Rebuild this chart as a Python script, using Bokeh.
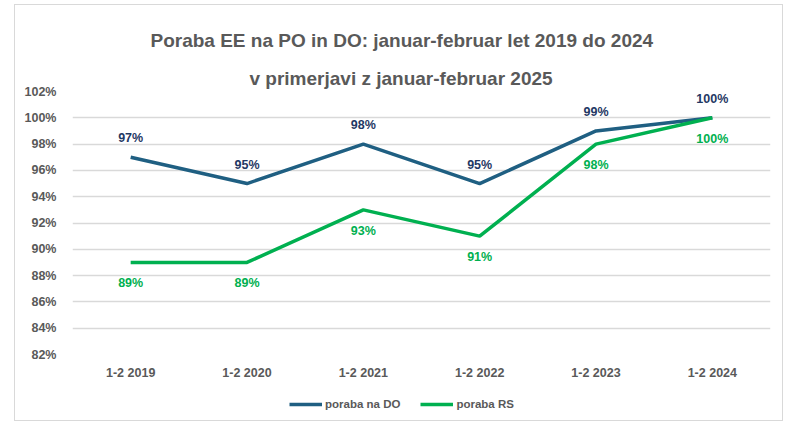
from bokeh.plotting import figure
from bokeh.layouts import column
from bokeh.models import ColumnDataSource, Legend, LegendItem, Title, Range1d, FactorRange, NumeralTickFormatter, FixedTicker
from bokeh.core.properties import value
from bokeh.embed import file_html
from bokeh.resources import INLINE

categories = ["1-2 2019", "1-2 2020", "1-2 2021", "1-2 2022", "1-2 2023", "1-2 2024"]
poraba_do = [0.97, 0.95, 0.98, 0.95, 0.99, 1.00]
poraba_rs = [0.89, 0.89, 0.93, 0.91, 0.98, 1.00]
y_ticks = [0.82, 0.84, 0.86, 0.88, 0.90, 0.92, 0.94, 0.96, 0.98, 1.00, 1.02]
series_names = ["poraba na DO", "poraba RS"]

DO_LINE = "#1F5F82"
DO_LABEL = "#1F3864"
RS_COLOR = "#00B050"
GRAY = "#595959"
FONT = "Liberation Sans"

src = ColumnDataSource(dict(
    x=categories, do=poraba_do, rs=poraba_rs,
    do_lbl=[f"{round(v*100)}%" for v in poraba_do],
    rs_lbl=[f"{round(v*100)}%" for v in poraba_rs],
))

p = figure(frame_width=698, frame_height=263, x_range=FactorRange(*categories), y_range=Range1d(0.82, 1.02),
           output_backend="svg", toolbar_location=None,
           min_border_left=57, min_border_right=12, min_border_top=86, min_border_bottom=30)

t2 = Title(text="v primerjavi z januar-februar 2025", align="left", text_font=FONT,
           text_font_size="19px", text_font_style="bold", text_color=GRAY, standoff=5, offset=177)
t1 = Title(text="Poraba EE na PO in DO: januar-februar let 2019 do 2024", align="left", text_font=FONT,
           text_font_size="19px", text_font_style="bold", text_color=GRAY, standoff=25, offset=78)
p.add_layout(t2, "above")
p.add_layout(t1, "above")

p.outline_line_color = None
p.xgrid.grid_line_color = None
p.ygrid.grid_line_color = "#D9D9D9"
p.ygrid.grid_line_width = 1.3
p.ygrid.ticker = FixedTicker(ticks=y_ticks)

p.yaxis.ticker = FixedTicker(ticks=y_ticks)
p.yaxis.formatter = NumeralTickFormatter(format="0%")
for ax in (p.xaxis[0], p.yaxis[0]):
    ax.axis_line_color = None
    ax.major_tick_line_color = None
    ax.minor_tick_line_color = None
    ax.major_label_text_font = FONT
    ax.major_label_text_font_size = "12.5px"
    ax.major_label_text_font_style = "bold"
    ax.major_label_text_color = GRAY
p.yaxis.major_label_standoff = 10
p.xaxis.major_label_standoff = 5

p.line("x", "do", source=src, line_color=DO_LINE, line_width=3.5)
p.line("x", "rs", source=src, line_color=RS_COLOR, line_width=3.5)

p.text("x", "do", text="do_lbl", source=src, text_align="center", text_baseline="bottom",
       y_offset=-12, text_font=value(FONT), text_font_size="12.5px",
       text_font_style="bold", text_color=DO_LABEL)
p.text("x", "rs", text="rs_lbl", source=src, text_align="center", text_baseline="top",
       y_offset=14, text_font=value(FONT), text_font_size="12.5px",
       text_font_style="bold", text_color=RS_COLOR)

# legend strip below the chart (series drawn outside its visible range; only the legend shows)
p2 = figure(width=767, height=36, output_backend="svg", toolbar_location=None,
            x_range=Range1d(0, 1), y_range=Range1d(0, 0.5), x_axis_type=None, y_axis_type=None,
            min_border=0)
p2.outline_line_color = None
p2.xgrid.grid_line_color = None
p2.ygrid.grid_line_color = None
idx = list(range(len(categories)))
l_do = p2.line(x=idx, y=poraba_do, line_color=DO_LINE, line_width=3.5)
l_rs = p2.line(x=idx, y=poraba_rs, line_color=RS_COLOR, line_width=3.5)
legend = Legend(items=[LegendItem(label=series_names[0], renderers=[l_do]),
                       LegendItem(label=series_names[1], renderers=[l_rs])],
                orientation="horizontal", location=(217, 10),
                label_text_font=FONT, label_text_font_size="11.5px", label_text_font_style="bold",
                label_text_color=GRAY, glyph_width=33, glyph_height=12, spacing=20,
                label_standoff=3, border_line_color=None, background_fill_alpha=0,
                margin=0, padding=0)
p2.add_layout(legend, "center")

layout = column(p, p2, spacing=0)
layout.styles = {"border": "1px solid #D9D9D9", "margin-left": "14px", "margin-top": "4px"}

open("out.html", "w").write(file_html(layout, INLINE))
